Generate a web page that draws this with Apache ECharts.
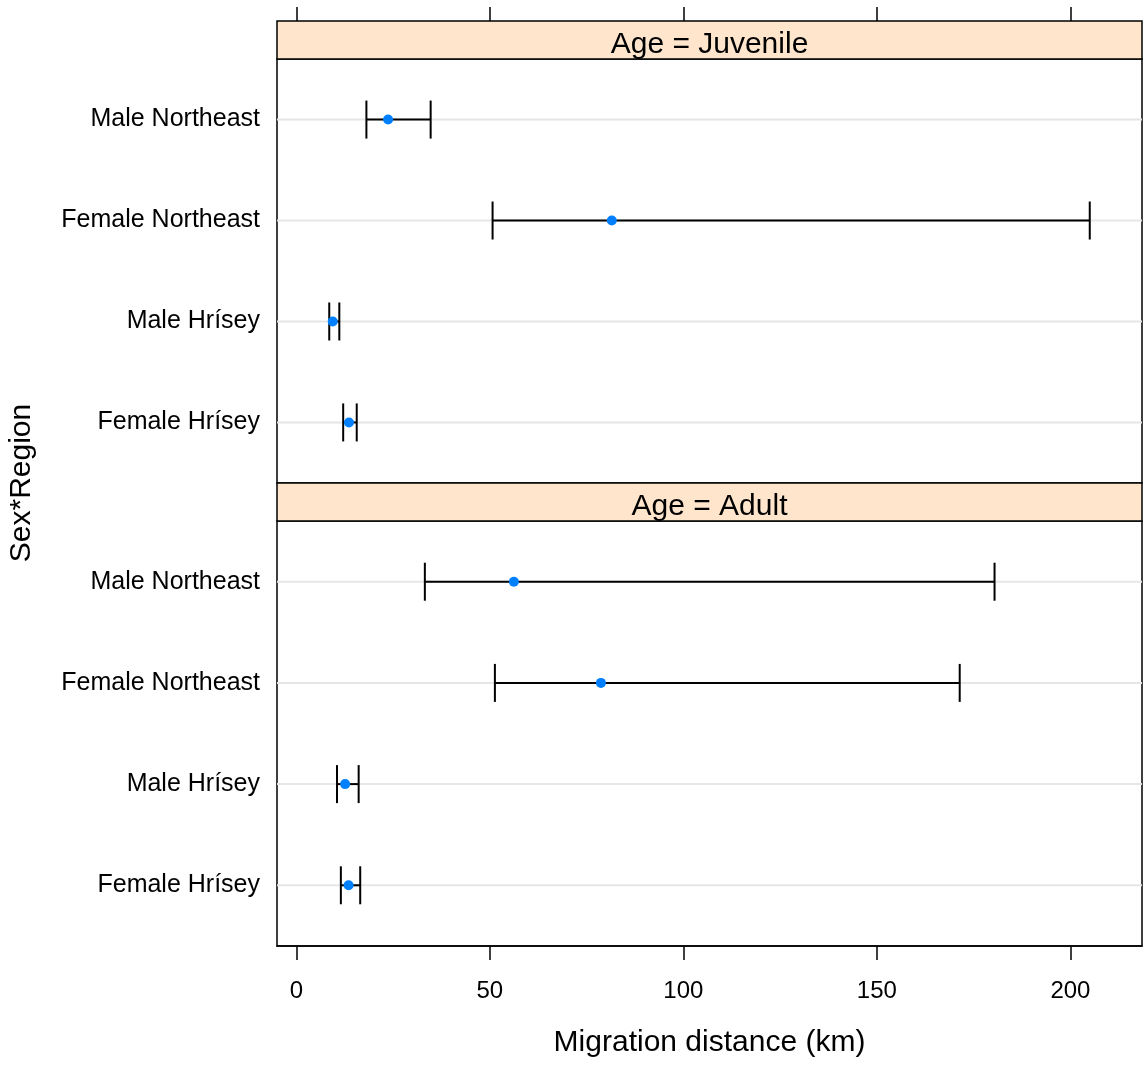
<!DOCTYPE html>
<html>
<head>
<meta charset="utf-8">
<script src="https://cdn.jsdelivr.net/npm/echarts@6/dist/echarts.min.js"></script>
<style>
  html, body { margin: 0; padding: 0; background: #fff; }
  #chart { width: 1144px; height: 1068px; }
</style>
</head>
<body>
<div id="chart"></div>
<script>
// rows from bottom to top
const categories = ['Female Hrísey', 'Male Hrísey', 'Female Northeast', 'Male Northeast']
const panels = ['Age = Juvenile', 'Age = Adult']

const juvenileMean = [13.6, 9.4, 81.5, 23.7]
const juvenileLower = [12.1, 8.5, 50.7, 18.1]
const juvenileUpper = [15.6, 11.1, 205.0, 34.7]

const adultMean = [13.5, 12.6, 78.7, 56.2]
const adultLower = [11.5, 10.5, 51.3, 33.2]
const adultUpper = [16.5, 16.1, 171.4, 180.4]

const xTicks = [0, 50, 100, 150, 200]
const rowTicks = [0, 1, 2, 3]

const font = 'Liberation Sans, Arial, sans-serif'
const stripFill = '#ffe5cc'

function barData (lower, upper) {
  return categories.map((c, i) => [i, lower[i], upper[i]])
}
function pointData (mean) {
  return categories.map((c, i) => [mean[i], i])
}

function renderBar (params, api) {
  const idx = api.value(0)
  const a = api.coord([api.value(1), idx])
  const b = api.coord([api.value(2), idx])
  const cs = params.coordSys
  const cap = 19
  const black = { stroke: '#000', lineWidth: 2 }
  return {
    type: 'group',
    children: [
      { type: 'line', z2: 0, shape: { x1: cs.x, y1: a[1], x2: cs.x + cs.width, y2: a[1] }, style: { stroke: '#e6e6e6', lineWidth: 2 } },
      { type: 'line', z2: 1, shape: { x1: a[0], y1: a[1], x2: b[0], y2: b[1] }, style: black },
      { type: 'line', z2: 1, shape: { x1: a[0], y1: a[1] - cap, x2: a[0], y2: a[1] + cap }, style: black },
      { type: 'line', z2: 1, shape: { x1: b[0], y1: b[1] - cap, x2: b[0], y2: b[1] + cap }, style: black }
    ]
  }
}

const chart = echarts.init(document.getElementById('chart'))

const yAxisBase = {
  type: 'value',
  min: -0.6,
  max: 3.6,
  axisLine: { show: false },
  axisTick: { show: false },
  splitLine: { show: false },
  axisLabel: {
    customValues: rowTicks,
    formatter: v => categories[v],
    color: '#000',
    fontFamily: font,
    fontSize: 25,
    padding: [12, 0, 0, 0],
    margin: 17
  }
}

chart.setOption({
  animation: false,
  backgroundColor: '#fff',
  grid: [
    { left: 277, right: 2, top: 59, height: 424, show: true, borderColor: '#000', borderWidth: 1.5 },
    { left: 277, right: 2, top: 521, height: 425, show: true, borderColor: '#000', borderWidth: 1.5 }
  ],
  xAxis: [
    {
      gridIndex: 0,
      type: 'value',
      position: 'top',
      offset: 38,
      min: -5,
      max: 218.5,
      axisLine: { show: false, onZero: false },
      axisTick: { customValues: xTicks, length: 14, lineStyle: { color: '#000', width: 1.5 } },
      axisLabel: { show: false },
      splitLine: { show: false }
    },
    {
      gridIndex: 1,
      type: 'value',
      position: 'bottom',
      min: -5,
      max: 218.5,
      axisLine: { show: true, onZero: false, lineStyle: { color: '#000', width: 1.5 } },
      axisTick: { customValues: xTicks, length: 14, lineStyle: { color: '#000', width: 1.5 } },
      axisLabel: { customValues: xTicks, color: '#000', fontFamily: font, fontSize: 24, margin: 33 },
      splitLine: { show: false },
      name: 'Migration distance (km)',
      nameLocation: 'middle',
      nameGap: 82,
      nameTextStyle: { color: '#000', fontFamily: font, fontSize: 30 }
    }
  ],
  yAxis: [
    Object.assign({ gridIndex: 0 }, yAxisBase),
    Object.assign({ gridIndex: 1 }, yAxisBase)
  ],
  graphic: [
    { type: 'rect', shape: { x: 277, y: 21, width: 865, height: 38 }, style: { fill: stripFill, stroke: '#000', lineWidth: 1.5 } },
    { type: 'text', x: 709.5, y: 45, style: { text: panels[0], fill: '#000', font: '30px ' + font, textAlign: 'center', textVerticalAlign: 'middle' } },
    { type: 'rect', shape: { x: 277, y: 483, width: 865, height: 38 }, style: { fill: stripFill, stroke: '#000', lineWidth: 1.5 } },
    { type: 'text', x: 709.5, y: 507, style: { text: panels[1], fill: '#000', font: '30px ' + font, textAlign: 'center', textVerticalAlign: 'middle' } },
    { type: 'text', x: 22, y: 483, rotation: Math.PI / 2, style: { text: 'Sex*Region', fill: '#000', font: '30px ' + font, textAlign: 'center', textVerticalAlign: 'middle' } }
  ],
  series: [
    {
      type: 'custom',
      xAxisIndex: 0,
      yAxisIndex: 0,
      renderItem: renderBar,
      encode: { x: [1, 2], y: 0 },
      data: barData(juvenileLower, juvenileUpper)
    },
    {
      type: 'scatter',
      xAxisIndex: 0,
      yAxisIndex: 0,
      symbol: 'circle',
      symbolSize: 10,
      itemStyle: { color: '#0080ff', opacity: 1 },
      z: 5,
      data: pointData(juvenileMean)
    },
    {
      type: 'custom',
      xAxisIndex: 1,
      yAxisIndex: 1,
      renderItem: renderBar,
      encode: { x: [1, 2], y: 0 },
      data: barData(adultLower, adultUpper)
    },
    {
      type: 'scatter',
      xAxisIndex: 1,
      yAxisIndex: 1,
      symbol: 'circle',
      symbolSize: 10,
      itemStyle: { color: '#0080ff', opacity: 1 },
      z: 5,
      data: pointData(adultMean)
    }
  ]
})
</script>
</body>
</html>
